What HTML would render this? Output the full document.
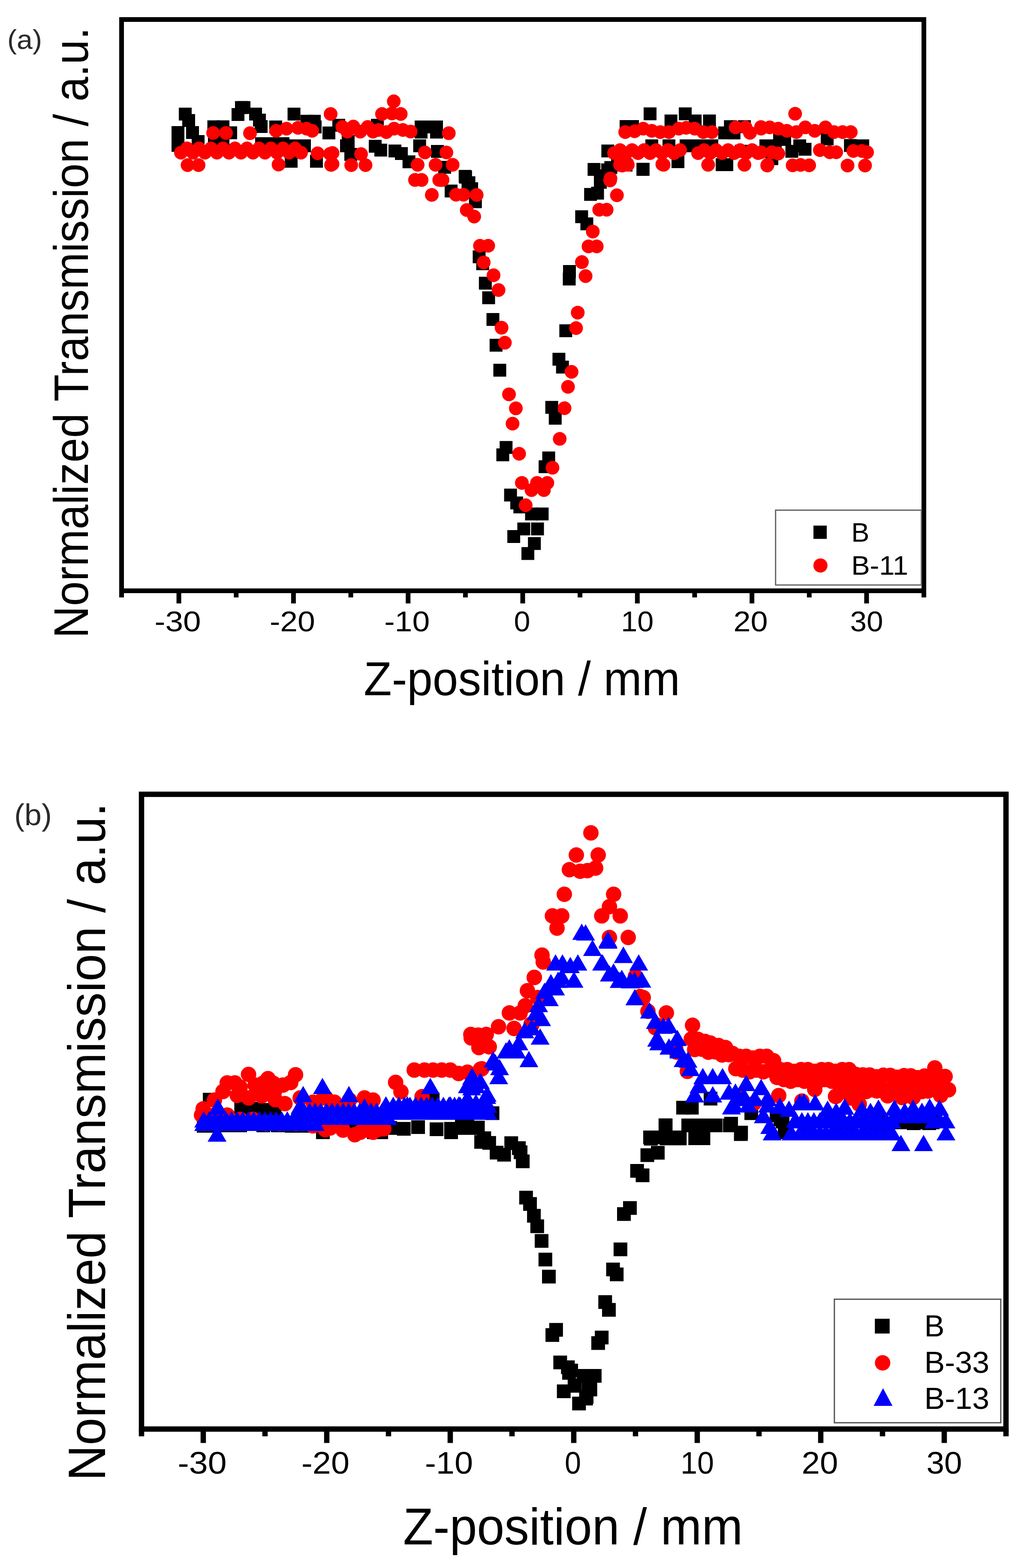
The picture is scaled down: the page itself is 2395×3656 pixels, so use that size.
<!DOCTYPE html>
<html><head><meta charset="utf-8"><title>Z-scan transmission</title>
<style>html,body{margin:0;padding:0;background:#fff;}svg{display:block;}</style>
</head><body>
<svg width="2395" height="3656" viewBox="0 0 2395 3656" font-family='"Liberation Sans", Arial, sans-serif'>
<rect width="2395" height="3656" fill="#fff"/>
<rect x="283.5" y="45.5" width="1871.0" height="1332.0" fill="none" stroke="#000" stroke-width="11"/>
<line x1="283.5" y1="1377.5" x2="283.5" y2="1393" stroke="#000" stroke-width="11"/>
<line x1="417.1" y1="1377.5" x2="417.1" y2="1407" stroke="#000" stroke-width="11"/>
<line x1="550.8" y1="1377.5" x2="550.8" y2="1393" stroke="#000" stroke-width="11"/>
<line x1="684.4" y1="1377.5" x2="684.4" y2="1407" stroke="#000" stroke-width="11"/>
<line x1="818.1" y1="1377.5" x2="818.1" y2="1393" stroke="#000" stroke-width="11"/>
<line x1="951.7" y1="1377.5" x2="951.7" y2="1407" stroke="#000" stroke-width="11"/>
<line x1="1085.4" y1="1377.5" x2="1085.4" y2="1393" stroke="#000" stroke-width="11"/>
<line x1="1219.0" y1="1377.5" x2="1219.0" y2="1407" stroke="#000" stroke-width="11"/>
<line x1="1352.6" y1="1377.5" x2="1352.6" y2="1393" stroke="#000" stroke-width="11"/>
<line x1="1486.3" y1="1377.5" x2="1486.3" y2="1407" stroke="#000" stroke-width="11"/>
<line x1="1619.9" y1="1377.5" x2="1619.9" y2="1393" stroke="#000" stroke-width="11"/>
<line x1="1753.6" y1="1377.5" x2="1753.6" y2="1407" stroke="#000" stroke-width="11"/>
<line x1="1887.2" y1="1377.5" x2="1887.2" y2="1393" stroke="#000" stroke-width="11"/>
<line x1="2020.9" y1="1377.5" x2="2020.9" y2="1407" stroke="#000" stroke-width="11"/>
<line x1="2154.5" y1="1377.5" x2="2154.5" y2="1393" stroke="#000" stroke-width="11"/>
<text x="414.6" y="1472.3" font-size="66.0" text-anchor="middle" fill="#000" textLength="108.0" lengthAdjust="spacingAndGlyphs">-30</text>
<text x="681.9" y="1472.3" font-size="66.0" text-anchor="middle" fill="#000" textLength="106.0" lengthAdjust="spacingAndGlyphs">-20</text>
<text x="949.2" y="1472.3" font-size="66.0" text-anchor="middle" fill="#000" textLength="106.0" lengthAdjust="spacingAndGlyphs">-10</text>
<text x="1217.5" y="1472.3" font-size="66.0" text-anchor="middle" fill="#000" textLength="38.0" lengthAdjust="spacingAndGlyphs">0</text>
<text x="1486.3" y="1472.3" font-size="66.0" text-anchor="middle" fill="#000" textLength="76.0" lengthAdjust="spacingAndGlyphs">10</text>
<text x="1750.6" y="1472.3" font-size="66.0" text-anchor="middle" fill="#000" textLength="80.0" lengthAdjust="spacingAndGlyphs">20</text>
<text x="2020.9" y="1472.3" font-size="66.0" text-anchor="middle" fill="#000" textLength="77.0" lengthAdjust="spacingAndGlyphs">30</text>
<text x="17.0" y="114.0" font-size="62.4" text-anchor="start" fill="#2a2a2a" textLength="81.1" lengthAdjust="spacingAndGlyphs">(a)</text>
<text x="848.3" y="1620.9" font-size="110.7" text-anchor="start" fill="#000" textLength="737.6" lengthAdjust="spacingAndGlyphs">Z-position / mm</text>
<text transform="translate(204.6,1487.9) rotate(-90)" font-size="113.5" textLength="1424.2" lengthAdjust="spacingAndGlyphs">Normalized Transmission / a.u.</text>
<rect x="330.0" y="1852.0" width="2016.0" height="1480.0" fill="none" stroke="#000" stroke-width="12.5"/>
<line x1="330.0" y1="3332.0" x2="330.0" y2="3349" stroke="#000" stroke-width="12.5"/>
<line x1="474.0" y1="3332.0" x2="474.0" y2="3364.5" stroke="#000" stroke-width="12.5"/>
<line x1="618.0" y1="3332.0" x2="618.0" y2="3349" stroke="#000" stroke-width="12.5"/>
<line x1="762.0" y1="3332.0" x2="762.0" y2="3364.5" stroke="#000" stroke-width="12.5"/>
<line x1="906.0" y1="3332.0" x2="906.0" y2="3349" stroke="#000" stroke-width="12.5"/>
<line x1="1050.0" y1="3332.0" x2="1050.0" y2="3364.5" stroke="#000" stroke-width="12.5"/>
<line x1="1194.0" y1="3332.0" x2="1194.0" y2="3349" stroke="#000" stroke-width="12.5"/>
<line x1="1338.0" y1="3332.0" x2="1338.0" y2="3364.5" stroke="#000" stroke-width="12.5"/>
<line x1="1482.0" y1="3332.0" x2="1482.0" y2="3349" stroke="#000" stroke-width="12.5"/>
<line x1="1626.0" y1="3332.0" x2="1626.0" y2="3364.5" stroke="#000" stroke-width="12.5"/>
<line x1="1770.0" y1="3332.0" x2="1770.0" y2="3349" stroke="#000" stroke-width="12.5"/>
<line x1="1914.0" y1="3332.0" x2="1914.0" y2="3364.5" stroke="#000" stroke-width="12.5"/>
<line x1="2058.0" y1="3332.0" x2="2058.0" y2="3349" stroke="#000" stroke-width="12.5"/>
<line x1="2202.0" y1="3332.0" x2="2202.0" y2="3364.5" stroke="#000" stroke-width="12.5"/>
<line x1="2346.0" y1="3332.0" x2="2346.0" y2="3349" stroke="#000" stroke-width="12.5"/>
<text x="471.5" y="3435.5" font-size="71.5" text-anchor="middle" fill="#000" textLength="114.0" lengthAdjust="spacingAndGlyphs">-30</text>
<text x="759.0" y="3435.5" font-size="71.5" text-anchor="middle" fill="#000" textLength="112.0" lengthAdjust="spacingAndGlyphs">-20</text>
<text x="1047.0" y="3435.5" font-size="71.5" text-anchor="middle" fill="#000" textLength="112.0" lengthAdjust="spacingAndGlyphs">-10</text>
<text x="1336.0" y="3435.5" font-size="71.5" text-anchor="middle" fill="#000" textLength="38.0" lengthAdjust="spacingAndGlyphs">0</text>
<text x="1626.0" y="3435.5" font-size="71.5" text-anchor="middle" fill="#000" textLength="78.0" lengthAdjust="spacingAndGlyphs">10</text>
<text x="1912.0" y="3435.5" font-size="71.5" text-anchor="middle" fill="#000" textLength="85.0" lengthAdjust="spacingAndGlyphs">20</text>
<text x="2202.0" y="3435.5" font-size="71.5" text-anchor="middle" fill="#000" textLength="83.0" lengthAdjust="spacingAndGlyphs">30</text>
<text x="33.2" y="1924.0" font-size="70.5" text-anchor="start" fill="#2a2a2a" textLength="87.7" lengthAdjust="spacingAndGlyphs">(b)</text>
<text x="939.9" y="3601.2" font-size="121.3" text-anchor="start" fill="#000" textLength="792.3" lengthAdjust="spacingAndGlyphs">Z-position / mm</text>
<text transform="translate(245,3452.8) rotate(-90)" font-size="122.8" textLength="1580.7" lengthAdjust="spacingAndGlyphs">Normalized Transmission / a.u.</text>
<g>
<rect x="417.0" y="251.0" width="30" height="30" fill="#000"/>
<rect x="425.0" y="266.0" width="30" height="30" fill="#000"/>
<rect x="400.0" y="294.0" width="30" height="30" fill="#000"/>
<rect x="434.0" y="294.0" width="30" height="30" fill="#000"/>
<rect x="400.0" y="324.0" width="30" height="30" fill="#000"/>
<rect x="447.0" y="315.0" width="30" height="30" fill="#000"/>
<rect x="483.6" y="280.6" width="30" height="30" fill="#000"/>
<rect x="505.0" y="280.6" width="30" height="30" fill="#000"/>
<rect x="485.0" y="315.0" width="30" height="30" fill="#000"/>
<rect x="505.0" y="315.0" width="30" height="30" fill="#000"/>
<rect x="523.0" y="294.6" width="30" height="30" fill="#000"/>
<rect x="548.0" y="235.7" width="30" height="30" fill="#000"/>
<rect x="554.0" y="235.7" width="30" height="30" fill="#000"/>
<rect x="540.0" y="252.0" width="30" height="30" fill="#000"/>
<rect x="581.0" y="251.0" width="30" height="30" fill="#000"/>
<rect x="590.0" y="265.0" width="30" height="30" fill="#000"/>
<rect x="594.0" y="280.0" width="30" height="30" fill="#000"/>
<rect x="628.0" y="281.0" width="30" height="30" fill="#000"/>
<rect x="670.6" y="251.0" width="30" height="30" fill="#000"/>
<rect x="700.8" y="267.7" width="30" height="30" fill="#000"/>
<rect x="718.0" y="267.7" width="30" height="30" fill="#000"/>
<rect x="720.0" y="281.0" width="30" height="30" fill="#000"/>
<rect x="752.0" y="295.0" width="30" height="30" fill="#000"/>
<rect x="664.0" y="361.0" width="30" height="30" fill="#000"/>
<rect x="723.0" y="361.0" width="30" height="30" fill="#000"/>
<rect x="595.0" y="320.0" width="30" height="30" fill="#000"/>
<rect x="625.0" y="320.0" width="30" height="30" fill="#000"/>
<rect x="645.0" y="320.0" width="30" height="30" fill="#000"/>
<rect x="675.0" y="325.0" width="30" height="30" fill="#000"/>
<rect x="695.0" y="325.0" width="30" height="30" fill="#000"/>
<rect x="775.0" y="277.0" width="30" height="30" fill="#000"/>
<rect x="797.0" y="315.0" width="30" height="30" fill="#000"/>
<rect x="793.0" y="325.0" width="30" height="30" fill="#000"/>
<rect x="803.0" y="345.0" width="30" height="30" fill="#000"/>
<rect x="865.0" y="277.0" width="30" height="30" fill="#000"/>
<rect x="860.0" y="326.0" width="30" height="30" fill="#000"/>
<rect x="873.0" y="335.0" width="30" height="30" fill="#000"/>
<rect x="906.0" y="337.0" width="30" height="30" fill="#000"/>
<rect x="921.0" y="343.0" width="30" height="30" fill="#000"/>
<rect x="938.7" y="362.3" width="30" height="30" fill="#000"/>
<rect x="963.6" y="325.0" width="30" height="30" fill="#000"/>
<rect x="967.0" y="281.0" width="30" height="30" fill="#000"/>
<rect x="987.0" y="281.0" width="30" height="30" fill="#000"/>
<rect x="1003.0" y="281.0" width="30" height="30" fill="#000"/>
<rect x="967.0" y="293.0" width="30" height="30" fill="#000"/>
<rect x="1003.0" y="293.0" width="30" height="30" fill="#000"/>
<rect x="1005.0" y="338.0" width="30" height="30" fill="#000"/>
<rect x="1022.0" y="375.0" width="30" height="30" fill="#000"/>
<rect x="1070.8" y="398.2" width="30" height="30" fill="#000"/>
<rect x="1078.5" y="411.0" width="30" height="30" fill="#000"/>
<rect x="1069.7" y="396.2" width="30" height="30" fill="#000"/>
<rect x="1076.4" y="414.5" width="30" height="30" fill="#000"/>
<rect x="1085.0" y="425.0" width="30" height="30" fill="#000"/>
<rect x="1037.0" y="430.4" width="30" height="30" fill="#000"/>
<rect x="1093.7" y="455.4" width="30" height="30" fill="#000"/>
<rect x="1102.4" y="583.8" width="30" height="30" fill="#000"/>
<rect x="1110.6" y="600.0" width="30" height="30" fill="#000"/>
<rect x="1116.8" y="645.3" width="30" height="30" fill="#000"/>
<rect x="1124.5" y="679.3" width="30" height="30" fill="#000"/>
<rect x="1134.5" y="729.9" width="30" height="30" fill="#000"/>
<rect x="1141.8" y="789.9" width="30" height="30" fill="#000"/>
<rect x="1150.5" y="848.2" width="30" height="30" fill="#000"/>
<rect x="1165.2" y="1028.3" width="30" height="30" fill="#000"/>
<rect x="1157.5" y="1045.5" width="30" height="30" fill="#000"/>
<rect x="1175.6" y="1139.3" width="30" height="30" fill="#000"/>
<rect x="1190.0" y="1157.7" width="30" height="30" fill="#000"/>
<rect x="1197.3" y="1167.0" width="30" height="30" fill="#000"/>
<rect x="1224.5" y="1183.4" width="30" height="30" fill="#000"/>
<rect x="1249.4" y="1183.4" width="30" height="30" fill="#000"/>
<rect x="1206.4" y="1218.3" width="30" height="30" fill="#000"/>
<rect x="1238.5" y="1218.3" width="30" height="30" fill="#000"/>
<rect x="1183.1" y="1236.0" width="30" height="30" fill="#000"/>
<rect x="1231.2" y="1252.3" width="30" height="30" fill="#000"/>
<rect x="1216.0" y="1275.6" width="30" height="30" fill="#000"/>
<rect x="1264.6" y="1052.7" width="30" height="30" fill="#000"/>
<rect x="1256.1" y="1073.2" width="30" height="30" fill="#000"/>
<rect x="1271.7" y="934.8" width="30" height="30" fill="#000"/>
<rect x="1279.8" y="960.2" width="30" height="30" fill="#000"/>
<rect x="1288.4" y="822.6" width="30" height="30" fill="#000"/>
<rect x="1296.7" y="840.9" width="30" height="30" fill="#000"/>
<rect x="1304.4" y="756.2" width="30" height="30" fill="#000"/>
<rect x="1312.5" y="635.6" width="30" height="30" fill="#000"/>
<rect x="1313.0" y="618.0" width="30" height="30" fill="#000"/>
<rect x="1341.4" y="490.3" width="30" height="30" fill="#000"/>
<rect x="1353.5" y="507.0" width="30" height="30" fill="#000"/>
<rect x="1362.2" y="438.3" width="30" height="30" fill="#000"/>
<rect x="1378.5" y="435.4" width="30" height="30" fill="#000"/>
<rect x="1390.0" y="395.0" width="30" height="30" fill="#000"/>
<rect x="1385.0" y="410.0" width="30" height="30" fill="#000"/>
<rect x="1370.3" y="380.0" width="30" height="30" fill="#000"/>
<rect x="1402.0" y="381.0" width="30" height="30" fill="#000"/>
<rect x="1484.7" y="379.6" width="30" height="30" fill="#000"/>
<rect x="1425.0" y="370.0" width="30" height="30" fill="#000"/>
<rect x="1445.0" y="370.0" width="30" height="30" fill="#000"/>
<rect x="1501.0" y="250.4" width="30" height="30" fill="#000"/>
<rect x="1583.0" y="250.4" width="30" height="30" fill="#000"/>
<rect x="1549.7" y="267.0" width="30" height="30" fill="#000"/>
<rect x="1606.2" y="267.0" width="30" height="30" fill="#000"/>
<rect x="1639.5" y="267.0" width="30" height="30" fill="#000"/>
<rect x="1445.0" y="280.0" width="30" height="30" fill="#000"/>
<rect x="1460.0" y="280.0" width="30" height="30" fill="#000"/>
<rect x="1688.3" y="280.3" width="30" height="30" fill="#000"/>
<rect x="1721.0" y="280.3" width="30" height="30" fill="#000"/>
<rect x="1675.0" y="294.8" width="30" height="30" fill="#000"/>
<rect x="1696.7" y="295.0" width="30" height="30" fill="#000"/>
<rect x="1772.4" y="325.6" width="30" height="30" fill="#000"/>
<rect x="1402.4" y="337.0" width="30" height="30" fill="#000"/>
<rect x="1409.4" y="375.6" width="30" height="30" fill="#000"/>
<rect x="1484.3" y="380.0" width="30" height="30" fill="#000"/>
<rect x="1566.0" y="362.0" width="30" height="30" fill="#000"/>
<rect x="1669.0" y="369.0" width="30" height="30" fill="#000"/>
<rect x="1680.0" y="369.0" width="30" height="30" fill="#000"/>
<rect x="1713.4" y="337.6" width="30" height="30" fill="#000"/>
<rect x="1615.0" y="325.0" width="30" height="30" fill="#000"/>
<rect x="1645.0" y="325.0" width="30" height="30" fill="#000"/>
<rect x="1505.0" y="325.0" width="30" height="30" fill="#000"/>
<rect x="1545.0" y="325.0" width="30" height="30" fill="#000"/>
<rect x="1585.0" y="325.0" width="30" height="30" fill="#000"/>
<rect x="1771.0" y="325.0" width="30" height="30" fill="#000"/>
<rect x="1793.0" y="325.0" width="30" height="30" fill="#000"/>
<rect x="1803.0" y="310.0" width="30" height="30" fill="#000"/>
<rect x="1815.0" y="310.0" width="30" height="30" fill="#000"/>
<rect x="1831.6" y="337.8" width="30" height="30" fill="#000"/>
<rect x="1862.4" y="333.0" width="30" height="30" fill="#000"/>
<rect x="1850.0" y="325.0" width="30" height="30" fill="#000"/>
<rect x="1914.0" y="309.0" width="30" height="30" fill="#000"/>
<rect x="1968.2" y="324.3" width="30" height="30" fill="#000"/>
<rect x="1997.0" y="325.0" width="30" height="30" fill="#000"/>
<rect x="1785.0" y="355.0" width="30" height="30" fill="#000"/>
</g><g>
<circle cx="497.0" cy="310.0" r="16.0" fill="#f00"/>
<circle cx="527.0" cy="310.0" r="16.0" fill="#f00"/>
<circle cx="583.0" cy="310.6" r="16.0" fill="#f00"/>
<circle cx="644.0" cy="305.0" r="16.0" fill="#f00"/>
<circle cx="668.0" cy="300.0" r="16.0" fill="#f00"/>
<circle cx="695.0" cy="298.0" r="16.0" fill="#f00"/>
<circle cx="715.0" cy="300.0" r="16.0" fill="#f00"/>
<circle cx="728.0" cy="305.0" r="16.0" fill="#f00"/>
<circle cx="771.0" cy="265.7" r="16.0" fill="#f00"/>
<circle cx="437.5" cy="385.0" r="16.0" fill="#f00"/>
<circle cx="463.0" cy="385.0" r="16.0" fill="#f00"/>
<circle cx="649.6" cy="383.7" r="16.0" fill="#f00"/>
<circle cx="740.7" cy="357.5" r="16.0" fill="#f00"/>
<circle cx="769.7" cy="358.8" r="16.0" fill="#f00"/>
<circle cx="772.0" cy="384.5" r="16.0" fill="#f00"/>
<circle cx="422.0" cy="356.0" r="16.0" fill="#f00"/>
<circle cx="436.0" cy="346.0" r="16.0" fill="#f00"/>
<circle cx="450.0" cy="356.0" r="16.0" fill="#f00"/>
<circle cx="464.0" cy="346.0" r="16.0" fill="#f00"/>
<circle cx="478.0" cy="356.0" r="16.0" fill="#f00"/>
<circle cx="492.0" cy="346.0" r="16.0" fill="#f00"/>
<circle cx="506.0" cy="356.0" r="16.0" fill="#f00"/>
<circle cx="520.0" cy="346.0" r="16.0" fill="#f00"/>
<circle cx="534.0" cy="356.0" r="16.0" fill="#f00"/>
<circle cx="548.0" cy="346.0" r="16.0" fill="#f00"/>
<circle cx="562.0" cy="356.0" r="16.0" fill="#f00"/>
<circle cx="576.0" cy="346.0" r="16.0" fill="#f00"/>
<circle cx="590.0" cy="356.0" r="16.0" fill="#f00"/>
<circle cx="604.0" cy="346.0" r="16.0" fill="#f00"/>
<circle cx="618.0" cy="356.0" r="16.0" fill="#f00"/>
<circle cx="632.0" cy="346.0" r="16.0" fill="#f00"/>
<circle cx="646.0" cy="356.0" r="16.0" fill="#f00"/>
<circle cx="660.0" cy="346.0" r="16.0" fill="#f00"/>
<circle cx="674.0" cy="356.0" r="16.0" fill="#f00"/>
<circle cx="688.0" cy="346.0" r="16.0" fill="#f00"/>
<circle cx="702.0" cy="356.0" r="16.0" fill="#f00"/>
<circle cx="918.3" cy="236.2" r="16.0" fill="#f00"/>
<circle cx="890.9" cy="265.7" r="16.0" fill="#f00"/>
<circle cx="934.5" cy="265.7" r="16.0" fill="#f00"/>
<circle cx="914.0" cy="264.4" r="16.0" fill="#f00"/>
<circle cx="798.5" cy="296.0" r="16.0" fill="#f00"/>
<circle cx="824.0" cy="295.0" r="16.0" fill="#f00"/>
<circle cx="857.5" cy="296.0" r="16.0" fill="#f00"/>
<circle cx="883.0" cy="303.0" r="16.0" fill="#f00"/>
<circle cx="901.0" cy="308.0" r="16.0" fill="#f00"/>
<circle cx="919.0" cy="300.0" r="16.0" fill="#f00"/>
<circle cx="939.6" cy="303.0" r="16.0" fill="#f00"/>
<circle cx="957.6" cy="306.7" r="16.0" fill="#f00"/>
<circle cx="810.0" cy="307.0" r="16.0" fill="#f00"/>
<circle cx="840.0" cy="307.0" r="16.0" fill="#f00"/>
<circle cx="870.0" cy="307.0" r="16.0" fill="#f00"/>
<circle cx="1046.6" cy="310.6" r="16.0" fill="#f00"/>
<circle cx="775.4" cy="356.8" r="16.0" fill="#f00"/>
<circle cx="775.4" cy="382.4" r="16.0" fill="#f00"/>
<circle cx="842.0" cy="359.3" r="16.0" fill="#f00"/>
<circle cx="819.0" cy="385.0" r="16.0" fill="#f00"/>
<circle cx="852.4" cy="385.0" r="16.0" fill="#f00"/>
<circle cx="991.0" cy="355.5" r="16.0" fill="#f00"/>
<circle cx="1041.0" cy="355.5" r="16.0" fill="#f00"/>
<circle cx="974.0" cy="384.2" r="16.0" fill="#f00"/>
<circle cx="1015.8" cy="384.2" r="16.0" fill="#f00"/>
<circle cx="1055.6" cy="384.2" r="16.0" fill="#f00"/>
<circle cx="967.8" cy="419.6" r="16.0" fill="#f00"/>
<circle cx="983.2" cy="419.6" r="16.0" fill="#f00"/>
<circle cx="1024.3" cy="419.6" r="16.0" fill="#f00"/>
<circle cx="1032.0" cy="419.6" r="16.0" fill="#f00"/>
<circle cx="1007.0" cy="454.5" r="16.0" fill="#f00"/>
<circle cx="1028.9" cy="419.4" r="16.0" fill="#f00"/>
<circle cx="1063.5" cy="454.0" r="16.0" fill="#f00"/>
<circle cx="1080.8" cy="454.0" r="16.0" fill="#f00"/>
<circle cx="1111.6" cy="454.5" r="16.0" fill="#f00"/>
<circle cx="1088.5" cy="489.7" r="16.0" fill="#f00"/>
<circle cx="1105.8" cy="505.0" r="16.0" fill="#f00"/>
<circle cx="1119.3" cy="573.0" r="16.0" fill="#f00"/>
<circle cx="1138.5" cy="573.0" r="16.0" fill="#f00"/>
<circle cx="1128.0" cy="611.9" r="16.0" fill="#f00"/>
<circle cx="1151.0" cy="641.7" r="16.0" fill="#f00"/>
<circle cx="1162.6" cy="676.3" r="16.0" fill="#f00"/>
<circle cx="1169.7" cy="764.1" r="16.0" fill="#f00"/>
<circle cx="1177.4" cy="799.1" r="16.0" fill="#f00"/>
<circle cx="1187.0" cy="919.4" r="16.0" fill="#f00"/>
<circle cx="1203.0" cy="952.1" r="16.0" fill="#f00"/>
<circle cx="1195.3" cy="987.7" r="16.0" fill="#f00"/>
<circle cx="1210.6" cy="1058.0" r="16.0" fill="#f00"/>
<circle cx="1217.0" cy="1125.9" r="16.0" fill="#f00"/>
<circle cx="1252.3" cy="1126.0" r="16.0" fill="#f00"/>
<circle cx="1276.4" cy="1126.0" r="16.0" fill="#f00"/>
<circle cx="1239.5" cy="1142.7" r="16.0" fill="#f00"/>
<circle cx="1268.4" cy="1142.7" r="16.0" fill="#f00"/>
<circle cx="1225.9" cy="1178.0" r="16.0" fill="#f00"/>
<circle cx="1305.3" cy="1023.3" r="16.0" fill="#f00"/>
<circle cx="1288.4" cy="1090.6" r="16.0" fill="#f00"/>
<circle cx="1347.3" cy="728.9" r="16.0" fill="#f00"/>
<circle cx="1343.4" cy="765.0" r="16.0" fill="#f00"/>
<circle cx="1332.9" cy="867.0" r="16.0" fill="#f00"/>
<circle cx="1324.6" cy="902.0" r="16.0" fill="#f00"/>
<circle cx="1316.5" cy="951.7" r="16.0" fill="#f00"/>
<circle cx="1422.8" cy="420.6" r="16.0" fill="#f00"/>
<circle cx="1438.7" cy="455.2" r="16.0" fill="#f00"/>
<circle cx="1397.4" cy="489.0" r="16.0" fill="#f00"/>
<circle cx="1414.7" cy="489.0" r="16.0" fill="#f00"/>
<circle cx="1382.4" cy="539.9" r="16.0" fill="#f00"/>
<circle cx="1372.4" cy="574.5" r="16.0" fill="#f00"/>
<circle cx="1391.6" cy="574.5" r="16.0" fill="#f00"/>
<circle cx="1357.0" cy="611.1" r="16.0" fill="#f00"/>
<circle cx="1365.6" cy="643.8" r="16.0" fill="#f00"/>
<circle cx="1447.4" cy="377.3" r="16.0" fill="#f00"/>
<circle cx="1462.8" cy="381.2" r="16.0" fill="#f00"/>
<circle cx="1451.0" cy="386.0" r="16.0" fill="#f00"/>
<circle cx="1544.6" cy="383.0" r="16.0" fill="#f00"/>
<circle cx="1423.6" cy="416.0" r="16.0" fill="#f00"/>
<circle cx="1458.0" cy="308.0" r="16.0" fill="#f00"/>
<circle cx="1480.0" cy="306.0" r="16.0" fill="#f00"/>
<circle cx="1500.0" cy="300.0" r="16.0" fill="#f00"/>
<circle cx="1520.0" cy="305.0" r="16.0" fill="#f00"/>
<circle cx="1540.0" cy="308.0" r="16.0" fill="#f00"/>
<circle cx="1560.0" cy="308.0" r="16.0" fill="#f00"/>
<circle cx="1583.0" cy="300.0" r="16.0" fill="#f00"/>
<circle cx="1600.0" cy="298.0" r="16.0" fill="#f00"/>
<circle cx="1620.0" cy="300.0" r="16.0" fill="#f00"/>
<circle cx="1640.0" cy="308.0" r="16.0" fill="#f00"/>
<circle cx="1660.0" cy="308.0" r="16.0" fill="#f00"/>
<circle cx="1715.6" cy="297.0" r="16.0" fill="#f00"/>
<circle cx="1738.7" cy="297.0" r="16.0" fill="#f00"/>
<circle cx="1749.0" cy="309.8" r="16.0" fill="#f00"/>
<circle cx="1774.6" cy="296.2" r="16.0" fill="#f00"/>
<circle cx="1446.0" cy="384.2" r="16.0" fill="#f00"/>
<circle cx="1464.0" cy="384.2" r="16.0" fill="#f00"/>
<circle cx="1547.5" cy="384.2" r="16.0" fill="#f00"/>
<circle cx="1651.4" cy="384.2" r="16.0" fill="#f00"/>
<circle cx="1736.0" cy="384.2" r="16.0" fill="#f00"/>
<circle cx="1790.0" cy="384.2" r="16.0" fill="#f00"/>
<circle cx="1432.0" cy="357.0" r="16.0" fill="#f00"/>
<circle cx="1446.0" cy="350.0" r="16.0" fill="#f00"/>
<circle cx="1460.0" cy="357.0" r="16.0" fill="#f00"/>
<circle cx="1474.0" cy="350.0" r="16.0" fill="#f00"/>
<circle cx="1488.0" cy="357.0" r="16.0" fill="#f00"/>
<circle cx="1502.0" cy="350.0" r="16.0" fill="#f00"/>
<circle cx="1516.0" cy="357.0" r="16.0" fill="#f00"/>
<circle cx="1530.0" cy="350.0" r="16.0" fill="#f00"/>
<circle cx="1544.0" cy="357.0" r="16.0" fill="#f00"/>
<circle cx="1558.0" cy="350.0" r="16.0" fill="#f00"/>
<circle cx="1572.0" cy="357.0" r="16.0" fill="#f00"/>
<circle cx="1586.0" cy="350.0" r="16.0" fill="#f00"/>
<circle cx="1628.0" cy="357.0" r="16.0" fill="#f00"/>
<circle cx="1642.0" cy="350.0" r="16.0" fill="#f00"/>
<circle cx="1656.0" cy="357.0" r="16.0" fill="#f00"/>
<circle cx="1670.0" cy="350.0" r="16.0" fill="#f00"/>
<circle cx="1684.0" cy="357.0" r="16.0" fill="#f00"/>
<circle cx="1698.0" cy="350.0" r="16.0" fill="#f00"/>
<circle cx="1712.0" cy="357.0" r="16.0" fill="#f00"/>
<circle cx="1726.0" cy="350.0" r="16.0" fill="#f00"/>
<circle cx="1740.0" cy="357.0" r="16.0" fill="#f00"/>
<circle cx="1754.0" cy="350.0" r="16.0" fill="#f00"/>
<circle cx="1768.0" cy="357.0" r="16.0" fill="#f00"/>
<circle cx="1854.3" cy="265.2" r="16.0" fill="#f00"/>
<circle cx="1775.0" cy="300.0" r="16.0" fill="#f00"/>
<circle cx="1795.0" cy="297.0" r="16.0" fill="#f00"/>
<circle cx="1815.0" cy="300.0" r="16.0" fill="#f00"/>
<circle cx="1835.0" cy="305.0" r="16.0" fill="#f00"/>
<circle cx="1857.0" cy="308.0" r="16.0" fill="#f00"/>
<circle cx="1878.0" cy="297.0" r="16.0" fill="#f00"/>
<circle cx="1900.0" cy="305.0" r="16.0" fill="#f00"/>
<circle cx="1925.0" cy="297.0" r="16.0" fill="#f00"/>
<circle cx="1945.0" cy="308.0" r="16.0" fill="#f00"/>
<circle cx="1965.0" cy="308.0" r="16.0" fill="#f00"/>
<circle cx="1984.0" cy="308.0" r="16.0" fill="#f00"/>
<circle cx="1775.0" cy="355.0" r="16.0" fill="#f00"/>
<circle cx="1800.0" cy="355.0" r="16.0" fill="#f00"/>
<circle cx="1815.0" cy="358.0" r="16.0" fill="#f00"/>
<circle cx="1912.0" cy="350.0" r="16.0" fill="#f00"/>
<circle cx="1935.0" cy="355.0" r="16.0" fill="#f00"/>
<circle cx="1950.0" cy="355.0" r="16.0" fill="#f00"/>
<circle cx="1990.0" cy="352.0" r="16.0" fill="#f00"/>
<circle cx="2010.0" cy="352.0" r="16.0" fill="#f00"/>
<circle cx="2022.0" cy="355.0" r="16.0" fill="#f00"/>
<circle cx="1789.2" cy="385.9" r="16.0" fill="#f00"/>
<circle cx="1867.0" cy="384.4" r="16.0" fill="#f00"/>
<circle cx="1848.5" cy="385.5" r="16.0" fill="#f00"/>
<circle cx="1887.0" cy="385.5" r="16.0" fill="#f00"/>
<circle cx="1976.5" cy="385.9" r="16.0" fill="#f00"/>
<circle cx="2017.3" cy="385.9" r="16.0" fill="#f00"/>
</g>
<g>
<rect x="473.0" y="2548.0" width="32" height="32" fill="#000"/>
<rect x="546.4" y="2569.0" width="32" height="32" fill="#000"/>
<rect x="570.0" y="2569.0" width="32" height="32" fill="#000"/>
<rect x="599.0" y="2572.0" width="32" height="32" fill="#000"/>
<rect x="624.0" y="2572.0" width="32" height="32" fill="#000"/>
<rect x="459.0" y="2594.0" width="32" height="32" fill="#000"/>
<rect x="459.0" y="2609.0" width="32" height="32" fill="#000"/>
<rect x="598.0" y="2608.0" width="32" height="32" fill="#000"/>
<rect x="631.7" y="2608.0" width="32" height="32" fill="#000"/>
<rect x="737.0" y="2624.0" width="32" height="32" fill="#000"/>
<rect x="694.0" y="2609.0" width="32" height="32" fill="#000"/>
<rect x="514.0" y="2608.0" width="32" height="32" fill="#000"/>
<rect x="544.0" y="2608.0" width="32" height="32" fill="#000"/>
<rect x="664.0" y="2609.0" width="32" height="32" fill="#000"/>
<rect x="484.0" y="2609.0" width="32" height="32" fill="#000"/>
<rect x="856.0" y="2624.0" width="32" height="32" fill="#000"/>
<rect x="873.0" y="2624.0" width="32" height="32" fill="#000"/>
<rect x="925.7" y="2616.0" width="32" height="32" fill="#000"/>
<rect x="1002.0" y="2617.0" width="32" height="32" fill="#000"/>
<rect x="1035.7" y="2616.0" width="32" height="32" fill="#000"/>
<rect x="1098.5" y="2613.0" width="32" height="32" fill="#000"/>
<rect x="1106.0" y="2646.5" width="32" height="32" fill="#000"/>
<rect x="993.0" y="2547.7" width="32" height="32" fill="#000"/>
<rect x="959.0" y="2612.0" width="32" height="32" fill="#000"/>
<rect x="1064.0" y="2614.0" width="32" height="32" fill="#000"/>
<rect x="764.0" y="2609.0" width="32" height="32" fill="#000"/>
<rect x="804.0" y="2609.0" width="32" height="32" fill="#000"/>
<rect x="834.0" y="2614.0" width="32" height="32" fill="#000"/>
<rect x="894.0" y="2614.0" width="32" height="32" fill="#000"/>
<rect x="1132.5" y="2579.5" width="32" height="32" fill="#000"/>
<rect x="1074.0" y="2589.0" width="32" height="32" fill="#000"/>
<rect x="1061.0" y="2599.0" width="32" height="32" fill="#000"/>
<rect x="1036.0" y="2624.0" width="32" height="32" fill="#000"/>
<rect x="1089.0" y="2614.0" width="32" height="32" fill="#000"/>
<rect x="1096.9" y="2612.9" width="32" height="32" fill="#000"/>
<rect x="1113.3" y="2637.9" width="32" height="32" fill="#000"/>
<rect x="1124.8" y="2648.8" width="32" height="32" fill="#000"/>
<rect x="1142.1" y="2671.5" width="32" height="32" fill="#000"/>
<rect x="1159.5" y="2676.4" width="32" height="32" fill="#000"/>
<rect x="1176.2" y="2649.4" width="32" height="32" fill="#000"/>
<rect x="1194.0" y="2661.0" width="32" height="32" fill="#000"/>
<rect x="1198.0" y="2670.6" width="32" height="32" fill="#000"/>
<rect x="1203.1" y="2691.8" width="32" height="32" fill="#000"/>
<rect x="1210.8" y="2776.4" width="32" height="32" fill="#000"/>
<rect x="1220.0" y="2791.2" width="32" height="32" fill="#000"/>
<rect x="1229.1" y="2818.7" width="32" height="32" fill="#000"/>
<rect x="1236.8" y="2843.2" width="32" height="32" fill="#000"/>
<rect x="1247.0" y="2877.4" width="32" height="32" fill="#000"/>
<rect x="1255.8" y="2920.8" width="32" height="32" fill="#000"/>
<rect x="1264.0" y="2960.6" width="32" height="32" fill="#000"/>
<rect x="1280.8" y="3084.7" width="32" height="32" fill="#000"/>
<rect x="1272.1" y="3096.8" width="32" height="32" fill="#000"/>
<rect x="1290.4" y="3160.7" width="32" height="32" fill="#000"/>
<rect x="1308.3" y="3171.9" width="32" height="32" fill="#000"/>
<rect x="1316.0" y="3179.6" width="32" height="32" fill="#000"/>
<rect x="1311.0" y="3185.0" width="32" height="32" fill="#000"/>
<rect x="1344.9" y="3192.0" width="32" height="32" fill="#000"/>
<rect x="1370.9" y="3192.0" width="32" height="32" fill="#000"/>
<rect x="1324.7" y="3215.2" width="32" height="32" fill="#000"/>
<rect x="1298.7" y="3228.0" width="32" height="32" fill="#000"/>
<rect x="1360.7" y="3223.8" width="32" height="32" fill="#000"/>
<rect x="1350.6" y="3245.0" width="32" height="32" fill="#000"/>
<rect x="1334.3" y="3256.5" width="32" height="32" fill="#000"/>
<rect x="1323.8" y="3214.0" width="32" height="32" fill="#000"/>
<rect x="1357.0" y="3217.0" width="32" height="32" fill="#000"/>
<rect x="1352.0" y="3241.0" width="32" height="32" fill="#000"/>
<rect x="1430.9" y="2897.1" width="32" height="32" fill="#000"/>
<rect x="1413.6" y="2943.9" width="32" height="32" fill="#000"/>
<rect x="1422.2" y="2955.4" width="32" height="32" fill="#000"/>
<rect x="1395.3" y="3019.9" width="32" height="32" fill="#000"/>
<rect x="1404.0" y="3038.1" width="32" height="32" fill="#000"/>
<rect x="1387.2" y="3102.6" width="32" height="32" fill="#000"/>
<rect x="1378.9" y="3115.5" width="32" height="32" fill="#000"/>
<rect x="1439.0" y="2814.7" width="32" height="32" fill="#000"/>
<rect x="1453.0" y="2800.6" width="32" height="32" fill="#000"/>
<rect x="1469.7" y="2714.0" width="32" height="32" fill="#000"/>
<rect x="1482.5" y="2724.4" width="32" height="32" fill="#000"/>
<rect x="1493.6" y="2677.4" width="32" height="32" fill="#000"/>
<rect x="1518.0" y="2671.8" width="32" height="32" fill="#000"/>
<rect x="1501.8" y="2639.0" width="32" height="32" fill="#000"/>
<rect x="1538.5" y="2638.4" width="32" height="32" fill="#000"/>
<rect x="1569.3" y="2638.4" width="32" height="32" fill="#000"/>
<rect x="1536.4" y="2608.1" width="32" height="32" fill="#000"/>
<rect x="1589.0" y="2608.0" width="32" height="32" fill="#000"/>
<rect x="1621.0" y="2608.0" width="32" height="32" fill="#000"/>
<rect x="1653.0" y="2608.0" width="32" height="32" fill="#000"/>
<rect x="1686.0" y="2608.0" width="32" height="32" fill="#000"/>
<rect x="1605.2" y="2638.0" width="32" height="32" fill="#000"/>
<rect x="1624.4" y="2638.0" width="32" height="32" fill="#000"/>
<rect x="1712.2" y="2624.8" width="32" height="32" fill="#000"/>
<rect x="1577.0" y="2566.7" width="32" height="32" fill="#000"/>
<rect x="1597.4" y="2566.7" width="32" height="32" fill="#000"/>
<rect x="1641.0" y="2545.6" width="32" height="32" fill="#000"/>
<rect x="1535.8" y="2607.7" width="32" height="32" fill="#000"/>
<rect x="1711.6" y="2628.3" width="32" height="32" fill="#000"/>
<rect x="1500.0" y="2636.0" width="32" height="32" fill="#000"/>
<rect x="1530.7" y="2636.0" width="32" height="32" fill="#000"/>
<rect x="1566.6" y="2636.0" width="32" height="32" fill="#000"/>
<rect x="1736.0" y="2579.5" width="32" height="32" fill="#000"/>
<rect x="1795.0" y="2584.6" width="32" height="32" fill="#000"/>
<rect x="1809.0" y="2599.0" width="32" height="32" fill="#000"/>
<rect x="1869.0" y="2607.0" width="32" height="32" fill="#000"/>
<rect x="1689.0" y="2604.0" width="32" height="32" fill="#000"/>
<rect x="1804.0" y="2594.0" width="32" height="32" fill="#000"/>
<rect x="1814.0" y="2624.0" width="32" height="32" fill="#000"/>
<rect x="1864.0" y="2609.0" width="32" height="32" fill="#000"/>
<rect x="1865.8" y="2606.0" width="32" height="32" fill="#000"/>
<rect x="2004.0" y="2601.0" width="32" height="32" fill="#000"/>
<rect x="2036.0" y="2601.0" width="32" height="32" fill="#000"/>
<rect x="2050.0" y="2603.0" width="32" height="32" fill="#000"/>
<rect x="2074.0" y="2601.0" width="32" height="32" fill="#000"/>
<rect x="2104.0" y="2601.0" width="32" height="32" fill="#000"/>
<rect x="2115.0" y="2603.0" width="32" height="32" fill="#000"/>
<rect x="2134.0" y="2601.0" width="32" height="32" fill="#000"/>
<rect x="2151.0" y="2603.0" width="32" height="32" fill="#000"/>
<rect x="2159.0" y="2601.0" width="32" height="32" fill="#000"/>
<rect x="1934.0" y="2604.0" width="32" height="32" fill="#000"/>
<rect x="1969.0" y="2604.0" width="32" height="32" fill="#000"/>
</g><g>
<circle cx="529.8" cy="2525.0" r="18.0" fill="#f00"/>
<circle cx="547.8" cy="2525.0" r="18.0" fill="#f00"/>
<circle cx="579.6" cy="2505.2" r="18.0" fill="#f00"/>
<circle cx="612.9" cy="2526.0" r="18.0" fill="#f00"/>
<circle cx="637.6" cy="2526.0" r="18.0" fill="#f00"/>
<circle cx="689.2" cy="2506.0" r="18.0" fill="#f00"/>
<circle cx="678.0" cy="2524.0" r="18.0" fill="#f00"/>
<circle cx="553.4" cy="2554.2" r="18.0" fill="#f00"/>
<circle cx="610.6" cy="2555.3" r="18.0" fill="#f00"/>
<circle cx="642.0" cy="2564.3" r="18.0" fill="#f00"/>
<circle cx="664.5" cy="2573.3" r="18.0" fill="#f00"/>
<circle cx="473.7" cy="2585.6" r="18.0" fill="#f00"/>
<circle cx="754.3" cy="2559.8" r="18.0" fill="#f00"/>
<circle cx="758.8" cy="2634.0" r="18.0" fill="#f00"/>
<circle cx="711.7" cy="2600.0" r="18.0" fill="#f00"/>
<circle cx="500.0" cy="2600.0" r="18.0" fill="#f00"/>
<circle cx="530.0" cy="2600.0" r="18.0" fill="#f00"/>
<circle cx="560.0" cy="2610.0" r="18.0" fill="#f00"/>
<circle cx="590.0" cy="2610.0" r="18.0" fill="#f00"/>
<circle cx="620.0" cy="2620.0" r="18.0" fill="#f00"/>
<circle cx="650.0" cy="2620.0" r="18.0" fill="#f00"/>
<circle cx="690.0" cy="2620.0" r="18.0" fill="#f00"/>
<circle cx="730.0" cy="2625.0" r="18.0" fill="#f00"/>
<circle cx="580.0" cy="2560.0" r="18.0" fill="#f00"/>
<circle cx="700.0" cy="2560.0" r="18.0" fill="#f00"/>
<circle cx="730.0" cy="2570.0" r="18.0" fill="#f00"/>
<circle cx="500.0" cy="2565.0" r="18.0" fill="#f00"/>
<circle cx="520.0" cy="2545.0" r="18.0" fill="#f00"/>
<circle cx="560.0" cy="2535.0" r="18.0" fill="#f00"/>
<circle cx="600.0" cy="2540.0" r="18.0" fill="#f00"/>
<circle cx="640.0" cy="2545.0" r="18.0" fill="#f00"/>
<circle cx="660.0" cy="2530.0" r="18.0" fill="#f00"/>
<circle cx="470.0" cy="2600.0" r="18.0" fill="#f00"/>
<circle cx="595.0" cy="2530.0" r="18.0" fill="#f00"/>
<circle cx="625.0" cy="2515.0" r="18.0" fill="#f00"/>
<circle cx="922.6" cy="2523.7" r="18.0" fill="#f00"/>
<circle cx="935.0" cy="2545.7" r="18.0" fill="#f00"/>
<circle cx="966.0" cy="2495.0" r="18.0" fill="#f00"/>
<circle cx="990.0" cy="2495.0" r="18.0" fill="#f00"/>
<circle cx="1010.0" cy="2495.0" r="18.0" fill="#f00"/>
<circle cx="1030.0" cy="2495.0" r="18.0" fill="#f00"/>
<circle cx="1050.0" cy="2495.0" r="18.0" fill="#f00"/>
<circle cx="1069.6" cy="2503.0" r="18.0" fill="#f00"/>
<circle cx="984.3" cy="2557.0" r="18.0" fill="#f00"/>
<circle cx="1123.5" cy="2492.0" r="18.0" fill="#f00"/>
<circle cx="1098.8" cy="2420.0" r="18.0" fill="#f00"/>
<circle cx="1116.8" cy="2442.5" r="18.0" fill="#f00"/>
<circle cx="815.0" cy="2565.0" r="18.0" fill="#f00"/>
<circle cx="850.0" cy="2560.0" r="18.0" fill="#f00"/>
<circle cx="870.0" cy="2565.0" r="18.0" fill="#f00"/>
<circle cx="809.0" cy="2584.0" r="18.0" fill="#f00"/>
<circle cx="827.4" cy="2645.8" r="18.0" fill="#f00"/>
<circle cx="858.6" cy="2635.5" r="18.0" fill="#f00"/>
<circle cx="883.0" cy="2633.0" r="18.0" fill="#f00"/>
<circle cx="900.0" cy="2600.0" r="18.0" fill="#f00"/>
<circle cx="950.0" cy="2590.0" r="18.0" fill="#f00"/>
<circle cx="1040.0" cy="2590.0" r="18.0" fill="#f00"/>
<circle cx="790.0" cy="2600.0" r="18.0" fill="#f00"/>
<circle cx="770.0" cy="2630.0" r="18.0" fill="#f00"/>
<circle cx="800.0" cy="2635.0" r="18.0" fill="#f00"/>
<circle cx="840.0" cy="2640.0" r="18.0" fill="#f00"/>
<circle cx="870.0" cy="2640.0" r="18.0" fill="#f00"/>
<circle cx="895.0" cy="2632.0" r="18.0" fill="#f00"/>
<circle cx="760.0" cy="2560.0" r="18.0" fill="#f00"/>
<circle cx="780.0" cy="2570.0" r="18.0" fill="#f00"/>
<circle cx="1246.0" cy="2279.0" r="18.0" fill="#f00"/>
<circle cx="1254.0" cy="2326.0" r="18.0" fill="#f00"/>
<circle cx="1187.8" cy="2361.8" r="18.0" fill="#f00"/>
<circle cx="1213.0" cy="2361.8" r="18.0" fill="#f00"/>
<circle cx="1162.6" cy="2394.0" r="18.0" fill="#f00"/>
<circle cx="1098.0" cy="2412.0" r="18.0" fill="#f00"/>
<circle cx="1134.0" cy="2412.0" r="18.0" fill="#f00"/>
<circle cx="1141.0" cy="2440.8" r="18.0" fill="#f00"/>
<circle cx="1115.4" cy="2413.4" r="18.0" fill="#f00"/>
<circle cx="1198.8" cy="2398.0" r="18.0" fill="#f00"/>
<circle cx="1238.5" cy="2387.8" r="18.0" fill="#f00"/>
<circle cx="1240.0" cy="2390.0" r="18.0" fill="#f00"/>
<circle cx="1120.5" cy="2493.0" r="18.0" fill="#f00"/>
<circle cx="1090.0" cy="2500.0" r="18.0" fill="#f00"/>
<circle cx="1230.0" cy="2310.0" r="18.0" fill="#f00"/>
<circle cx="1225.0" cy="2345.0" r="18.0" fill="#f00"/>
<circle cx="1378.0" cy="1942.0" r="18.0" fill="#f00"/>
<circle cx="1344.0" cy="1993.6" r="18.0" fill="#f00"/>
<circle cx="1395.0" cy="1993.6" r="18.0" fill="#f00"/>
<circle cx="1327.8" cy="2027.8" r="18.0" fill="#f00"/>
<circle cx="1353.0" cy="2031.4" r="18.0" fill="#f00"/>
<circle cx="1389.0" cy="2024.0" r="18.0" fill="#f00"/>
<circle cx="1370.0" cy="2030.0" r="18.0" fill="#f00"/>
<circle cx="1316.0" cy="2085.2" r="18.0" fill="#f00"/>
<circle cx="1431.0" cy="2085.2" r="18.0" fill="#f00"/>
<circle cx="1288.3" cy="2135.5" r="18.0" fill="#f00"/>
<circle cx="1310.0" cy="2135.5" r="18.0" fill="#f00"/>
<circle cx="1299.0" cy="2164.0" r="18.0" fill="#f00"/>
<circle cx="1403.3" cy="2135.5" r="18.0" fill="#f00"/>
<circle cx="1421.2" cy="2114.0" r="18.0" fill="#f00"/>
<circle cx="1446.4" cy="2135.5" r="18.0" fill="#f00"/>
<circle cx="1421.2" cy="2185.8" r="18.0" fill="#f00"/>
<circle cx="1465.0" cy="2185.8" r="18.0" fill="#f00"/>
<circle cx="1264.0" cy="2227.0" r="18.0" fill="#f00"/>
<circle cx="1266.8" cy="2243.0" r="18.0" fill="#f00"/>
<circle cx="1246.0" cy="2279.0" r="18.0" fill="#f00"/>
<circle cx="1481.8" cy="2276.6" r="18.0" fill="#f00"/>
<circle cx="1500.0" cy="2326.0" r="18.0" fill="#f00"/>
<circle cx="1511.0" cy="2358.0" r="18.0" fill="#f00"/>
<circle cx="1554.0" cy="2361.8" r="18.0" fill="#f00"/>
<circle cx="1532.6" cy="2390.6" r="18.0" fill="#f00"/>
<circle cx="1615.0" cy="2390.6" r="18.0" fill="#f00"/>
<circle cx="1622.4" cy="2423.0" r="18.0" fill="#f00"/>
<circle cx="1575.7" cy="2444.4" r="18.0" fill="#f00"/>
<circle cx="1492.6" cy="2323.6" r="18.0" fill="#f00"/>
<circle cx="1528.3" cy="2396.3" r="18.0" fill="#f00"/>
<circle cx="1656.6" cy="2432.0" r="18.0" fill="#f00"/>
<circle cx="1603.0" cy="2498.0" r="18.0" fill="#f00"/>
<circle cx="1577.5" cy="2453.0" r="18.0" fill="#f00"/>
<circle cx="1720.0" cy="2558.3" r="18.0" fill="#f00"/>
<circle cx="1816.0" cy="2554.5" r="18.0" fill="#f00"/>
<circle cx="1870.0" cy="2567.3" r="18.0" fill="#f00"/>
<circle cx="1758.4" cy="2572.4" r="18.0" fill="#f00"/>
<circle cx="1950.0" cy="2556.0" r="18.0" fill="#f00"/>
<circle cx="1612.0" cy="2422.6" r="18.0" fill="#f00"/>
<circle cx="1620.0" cy="2447.0" r="18.0" fill="#f00"/>
<circle cx="1628.0" cy="2423.4" r="18.0" fill="#f00"/>
<circle cx="1636.0" cy="2446.2" r="18.0" fill="#f00"/>
<circle cx="1644.0" cy="2428.2" r="18.0" fill="#f00"/>
<circle cx="1652.0" cy="2453.4" r="18.0" fill="#f00"/>
<circle cx="1660.0" cy="2437.0" r="18.0" fill="#f00"/>
<circle cx="1668.0" cy="2452.6" r="18.0" fill="#f00"/>
<circle cx="1676.0" cy="2437.8" r="18.0" fill="#f00"/>
<circle cx="1684.0" cy="2459.8" r="18.0" fill="#f00"/>
<circle cx="1692.0" cy="2442.6" r="18.0" fill="#f00"/>
<circle cx="1700.0" cy="2459.0" r="18.0" fill="#f00"/>
<circle cx="1708.0" cy="2456.2" r="18.0" fill="#f00"/>
<circle cx="1716.0" cy="2491.8" r="18.0" fill="#f00"/>
<circle cx="1724.0" cy="2463.0" r="18.0" fill="#f00"/>
<circle cx="1732.0" cy="2495.0" r="18.0" fill="#f00"/>
<circle cx="1740.0" cy="2463.0" r="18.0" fill="#f00"/>
<circle cx="1748.0" cy="2499.0" r="18.0" fill="#f00"/>
<circle cx="1756.0" cy="2467.0" r="18.0" fill="#f00"/>
<circle cx="1764.0" cy="2495.0" r="18.0" fill="#f00"/>
<circle cx="1772.0" cy="2463.0" r="18.0" fill="#f00"/>
<circle cx="1780.0" cy="2499.0" r="18.0" fill="#f00"/>
<circle cx="1788.0" cy="2463.0" r="18.0" fill="#f00"/>
<circle cx="1796.0" cy="2495.0" r="18.0" fill="#f00"/>
<circle cx="1804.0" cy="2473.2" r="18.0" fill="#f00"/>
<circle cx="1812.0" cy="2512.2" r="18.0" fill="#f00"/>
<circle cx="1820.0" cy="2494.0" r="18.0" fill="#f00"/>
<circle cx="1828.0" cy="2517.0" r="18.0" fill="#f00"/>
<circle cx="1836.0" cy="2494.0" r="18.0" fill="#f00"/>
<circle cx="1844.0" cy="2521.0" r="18.0" fill="#f00"/>
<circle cx="1852.0" cy="2498.0" r="18.0" fill="#f00"/>
<circle cx="1860.0" cy="2517.0" r="18.0" fill="#f00"/>
<circle cx="1868.0" cy="2494.0" r="18.0" fill="#f00"/>
<circle cx="1876.0" cy="2521.0" r="18.0" fill="#f00"/>
<circle cx="1884.0" cy="2494.0" r="18.0" fill="#f00"/>
<circle cx="1892.0" cy="2517.0" r="18.0" fill="#f00"/>
<circle cx="1900.0" cy="2498.0" r="18.0" fill="#f00"/>
<circle cx="1908.0" cy="2521.0" r="18.0" fill="#f00"/>
<circle cx="1916.0" cy="2494.0" r="18.0" fill="#f00"/>
<circle cx="1924.0" cy="2517.0" r="18.0" fill="#f00"/>
<circle cx="1932.0" cy="2494.0" r="18.0" fill="#f00"/>
<circle cx="1940.0" cy="2521.0" r="18.0" fill="#f00"/>
<circle cx="1948.0" cy="2498.0" r="18.0" fill="#f00"/>
<circle cx="1956.0" cy="2517.0" r="18.0" fill="#f00"/>
<circle cx="1964.0" cy="2494.0" r="18.0" fill="#f00"/>
<circle cx="1972.0" cy="2521.0" r="18.0" fill="#f00"/>
<circle cx="1980.0" cy="2494.0" r="18.0" fill="#f00"/>
<circle cx="1988.0" cy="2517.0" r="18.0" fill="#f00"/>
<circle cx="1996.0" cy="2505.2" r="18.0" fill="#f00"/>
<circle cx="2004.0" cy="2540.1" r="18.0" fill="#f00"/>
<circle cx="2012.0" cy="2506.2" r="18.0" fill="#f00"/>
<circle cx="2020.0" cy="2536.5" r="18.0" fill="#f00"/>
<circle cx="2028.0" cy="2506.5" r="18.0" fill="#f00"/>
<circle cx="2036.0" cy="2540.9" r="18.0" fill="#f00"/>
<circle cx="2044.0" cy="2510.8" r="18.0" fill="#f00"/>
<circle cx="2052.0" cy="2537.2" r="18.0" fill="#f00"/>
<circle cx="2060.0" cy="2507.1" r="18.0" fill="#f00"/>
<circle cx="2068.0" cy="2541.6" r="18.0" fill="#f00"/>
<circle cx="2076.0" cy="2507.4" r="18.0" fill="#f00"/>
<circle cx="2084.0" cy="2538.0" r="18.0" fill="#f00"/>
<circle cx="2092.0" cy="2511.8" r="18.0" fill="#f00"/>
<circle cx="2100.0" cy="2542.4" r="18.0" fill="#f00"/>
<circle cx="2108.0" cy="2508.1" r="18.0" fill="#f00"/>
<circle cx="2116.0" cy="2538.8" r="18.0" fill="#f00"/>
<circle cx="2124.0" cy="2508.4" r="18.0" fill="#f00"/>
<circle cx="2132.0" cy="2543.1" r="18.0" fill="#f00"/>
<circle cx="2140.0" cy="2512.7" r="18.0" fill="#f00"/>
<circle cx="2148.0" cy="2539.5" r="18.0" fill="#f00"/>
<circle cx="2156.0" cy="2509.0" r="18.0" fill="#f00"/>
<circle cx="2164.0" cy="2543.9" r="18.0" fill="#f00"/>
<circle cx="2172.0" cy="2509.3" r="18.0" fill="#f00"/>
<circle cx="2180.0" cy="2540.3" r="18.0" fill="#f00"/>
<circle cx="2188.0" cy="2513.6" r="18.0" fill="#f00"/>
<circle cx="2196.0" cy="2544.7" r="18.0" fill="#f00"/>
<circle cx="2204.0" cy="2509.9" r="18.0" fill="#f00"/>
<circle cx="2212.0" cy="2541.0" r="18.0" fill="#f00"/>
<circle cx="1919.0" cy="2507.8" r="18.0" fill="#f00"/>
<circle cx="1955.0" cy="2507.8" r="18.0" fill="#f00"/>
<circle cx="2111.4" cy="2525.7" r="18.0" fill="#f00"/>
<circle cx="2129.4" cy="2525.7" r="18.0" fill="#f00"/>
<circle cx="2180.7" cy="2505.2" r="18.0" fill="#f00"/>
<circle cx="2175.6" cy="2523.0" r="18.0" fill="#f00"/>
<circle cx="1948.5" cy="2556.5" r="18.0" fill="#f00"/>
<circle cx="1993.4" cy="2543.7" r="18.0" fill="#f00"/>
<circle cx="2003.7" cy="2574.5" r="18.0" fill="#f00"/>
<circle cx="2044.7" cy="2543.7" r="18.0" fill="#f00"/>
<circle cx="2103.7" cy="2559.0" r="18.0" fill="#f00"/>
<circle cx="2129.4" cy="2559.0" r="18.0" fill="#f00"/>
<circle cx="2193.5" cy="2554.0" r="18.0" fill="#f00"/>
<circle cx="1960.0" cy="2540.0" r="18.0" fill="#f00"/>
<circle cx="2020.0" cy="2545.0" r="18.0" fill="#f00"/>
<circle cx="2150.0" cy="2545.0" r="18.0" fill="#f00"/>
<circle cx="2070.0" cy="2555.0" r="18.0" fill="#f00"/>
<circle cx="1900.0" cy="2540.0" r="18.0" fill="#f00"/>
<circle cx="1985.0" cy="2560.0" r="18.0" fill="#f00"/>
<circle cx="2195.0" cy="2520.0" r="18.0" fill="#f00"/>
<circle cx="2180.0" cy="2490.0" r="18.0" fill="#f00"/>
</g><g>
<path d="M506.2 2624.0L528.2 2662.0L484.2 2662.0Z" fill="#00f"/>
<path d="M707.0 2532.0L729.0 2570.0L685.0 2570.0Z" fill="#00f"/>
<path d="M752.0 2513.0L774.0 2551.0L730.0 2551.0Z" fill="#00f"/>
<path d="M475.0 2591.0L497.0 2629.0L453.0 2629.0Z" fill="#00f"/>
<path d="M488.0 2591.0L510.0 2629.0L466.0 2629.0Z" fill="#00f"/>
<path d="M501.0 2591.0L523.0 2629.0L479.0 2629.0Z" fill="#00f"/>
<path d="M514.0 2591.0L536.0 2629.0L492.0 2629.0Z" fill="#00f"/>
<path d="M527.0 2591.0L549.0 2629.0L505.0 2629.0Z" fill="#00f"/>
<path d="M540.0 2591.0L562.0 2629.0L518.0 2629.0Z" fill="#00f"/>
<path d="M553.0 2591.0L575.0 2629.0L531.0 2629.0Z" fill="#00f"/>
<path d="M566.0 2591.0L588.0 2629.0L544.0 2629.0Z" fill="#00f"/>
<path d="M579.0 2591.0L601.0 2629.0L557.0 2629.0Z" fill="#00f"/>
<path d="M592.0 2591.0L614.0 2629.0L570.0 2629.0Z" fill="#00f"/>
<path d="M605.0 2591.0L627.0 2629.0L583.0 2629.0Z" fill="#00f"/>
<path d="M618.0 2591.0L640.0 2629.0L596.0 2629.0Z" fill="#00f"/>
<path d="M631.0 2591.0L653.0 2629.0L609.0 2629.0Z" fill="#00f"/>
<path d="M644.0 2591.0L666.0 2629.0L622.0 2629.0Z" fill="#00f"/>
<path d="M657.0 2591.0L679.0 2629.0L635.0 2629.0Z" fill="#00f"/>
<path d="M670.0 2591.0L692.0 2629.0L648.0 2629.0Z" fill="#00f"/>
<path d="M683.0 2591.0L705.0 2629.0L661.0 2629.0Z" fill="#00f"/>
<path d="M696.0 2571.0L718.0 2609.0L674.0 2609.0Z" fill="#00f"/>
<path d="M709.0 2571.0L731.0 2609.0L687.0 2609.0Z" fill="#00f"/>
<path d="M722.0 2571.0L744.0 2609.0L700.0 2609.0Z" fill="#00f"/>
<path d="M735.0 2571.0L757.0 2609.0L713.0 2609.0Z" fill="#00f"/>
<path d="M748.0 2571.0L770.0 2609.0L726.0 2609.0Z" fill="#00f"/>
<path d="M761.0 2571.0L783.0 2609.0L739.0 2609.0Z" fill="#00f"/>
<path d="M774.0 2571.0L796.0 2609.0L752.0 2609.0Z" fill="#00f"/>
<path d="M787.0 2571.0L809.0 2609.0L765.0 2609.0Z" fill="#00f"/>
<path d="M800.0 2571.0L822.0 2609.0L778.0 2609.0Z" fill="#00f"/>
<path d="M813.0 2571.0L835.0 2609.0L791.0 2609.0Z" fill="#00f"/>
<path d="M826.0 2571.0L848.0 2609.0L804.0 2609.0Z" fill="#00f"/>
<path d="M839.0 2571.0L861.0 2609.0L817.0 2609.0Z" fill="#00f"/>
<path d="M852.0 2571.0L874.0 2609.0L830.0 2609.0Z" fill="#00f"/>
<path d="M865.0 2571.0L887.0 2609.0L843.0 2609.0Z" fill="#00f"/>
<path d="M878.0 2571.0L900.0 2609.0L856.0 2609.0Z" fill="#00f"/>
<path d="M891.0 2571.0L913.0 2609.0L869.0 2609.0Z" fill="#00f"/>
<path d="M904.0 2571.0L926.0 2609.0L882.0 2609.0Z" fill="#00f"/>
<path d="M917.0 2557.0L939.0 2595.0L895.0 2595.0Z" fill="#00f"/>
<path d="M930.0 2557.0L952.0 2595.0L908.0 2595.0Z" fill="#00f"/>
<path d="M943.0 2557.0L965.0 2595.0L921.0 2595.0Z" fill="#00f"/>
<path d="M956.0 2557.0L978.0 2595.0L934.0 2595.0Z" fill="#00f"/>
<path d="M969.0 2557.0L991.0 2595.0L947.0 2595.0Z" fill="#00f"/>
<path d="M982.0 2557.0L1004.0 2595.0L960.0 2595.0Z" fill="#00f"/>
<path d="M995.0 2557.0L1017.0 2595.0L973.0 2595.0Z" fill="#00f"/>
<path d="M1008.0 2557.0L1030.0 2595.0L986.0 2595.0Z" fill="#00f"/>
<path d="M1021.0 2557.0L1043.0 2595.0L999.0 2595.0Z" fill="#00f"/>
<path d="M1034.0 2557.0L1056.0 2595.0L1012.0 2595.0Z" fill="#00f"/>
<path d="M1047.0 2557.0L1069.0 2595.0L1025.0 2595.0Z" fill="#00f"/>
<path d="M1060.0 2557.0L1082.0 2595.0L1038.0 2595.0Z" fill="#00f"/>
<path d="M1073.0 2557.0L1095.0 2595.0L1051.0 2595.0Z" fill="#00f"/>
<path d="M1086.0 2557.0L1108.0 2595.0L1064.0 2595.0Z" fill="#00f"/>
<path d="M1099.0 2557.0L1121.0 2595.0L1077.0 2595.0Z" fill="#00f"/>
<path d="M1112.0 2557.0L1134.0 2595.0L1090.0 2595.0Z" fill="#00f"/>
<path d="M1125.0 2557.0L1147.0 2595.0L1103.0 2595.0Z" fill="#00f"/>
<path d="M1138.0 2557.0L1160.0 2595.0L1116.0 2595.0Z" fill="#00f"/>
<path d="M475.0 2599.0L497.0 2637.0L453.0 2637.0Z" fill="#00f"/>
<path d="M488.0 2599.0L510.0 2637.0L466.0 2637.0Z" fill="#00f"/>
<path d="M501.0 2599.0L523.0 2637.0L479.0 2637.0Z" fill="#00f"/>
<path d="M514.0 2599.0L536.0 2637.0L492.0 2637.0Z" fill="#00f"/>
<path d="M527.0 2599.0L549.0 2637.0L505.0 2637.0Z" fill="#00f"/>
<path d="M540.0 2599.0L562.0 2637.0L518.0 2637.0Z" fill="#00f"/>
<path d="M553.0 2599.0L575.0 2637.0L531.0 2637.0Z" fill="#00f"/>
<path d="M566.0 2599.0L588.0 2637.0L544.0 2637.0Z" fill="#00f"/>
<path d="M579.0 2599.0L601.0 2637.0L557.0 2637.0Z" fill="#00f"/>
<path d="M592.0 2599.0L614.0 2637.0L570.0 2637.0Z" fill="#00f"/>
<path d="M605.0 2599.0L627.0 2637.0L583.0 2637.0Z" fill="#00f"/>
<path d="M618.0 2599.0L640.0 2637.0L596.0 2637.0Z" fill="#00f"/>
<path d="M631.0 2599.0L653.0 2637.0L609.0 2637.0Z" fill="#00f"/>
<path d="M644.0 2599.0L666.0 2637.0L622.0 2637.0Z" fill="#00f"/>
<path d="M657.0 2599.0L679.0 2637.0L635.0 2637.0Z" fill="#00f"/>
<path d="M670.0 2599.0L692.0 2637.0L648.0 2637.0Z" fill="#00f"/>
<path d="M683.0 2599.0L705.0 2637.0L661.0 2637.0Z" fill="#00f"/>
<path d="M696.0 2599.0L718.0 2637.0L674.0 2637.0Z" fill="#00f"/>
<path d="M709.0 2599.0L731.0 2637.0L687.0 2637.0Z" fill="#00f"/>
<path d="M722.0 2599.0L744.0 2637.0L700.0 2637.0Z" fill="#00f"/>
<path d="M735.0 2599.0L757.0 2637.0L713.0 2637.0Z" fill="#00f"/>
<path d="M748.0 2585.0L770.0 2623.0L726.0 2623.0Z" fill="#00f"/>
<path d="M761.0 2585.0L783.0 2623.0L739.0 2623.0Z" fill="#00f"/>
<path d="M774.0 2585.0L796.0 2623.0L752.0 2623.0Z" fill="#00f"/>
<path d="M787.0 2585.0L809.0 2623.0L765.0 2623.0Z" fill="#00f"/>
<path d="M800.0 2585.0L822.0 2623.0L778.0 2623.0Z" fill="#00f"/>
<path d="M813.0 2585.0L835.0 2623.0L791.0 2623.0Z" fill="#00f"/>
<path d="M826.0 2585.0L848.0 2623.0L804.0 2623.0Z" fill="#00f"/>
<path d="M839.0 2585.0L861.0 2623.0L817.0 2623.0Z" fill="#00f"/>
<path d="M852.0 2585.0L874.0 2623.0L830.0 2623.0Z" fill="#00f"/>
<path d="M865.0 2585.0L887.0 2623.0L843.0 2623.0Z" fill="#00f"/>
<path d="M878.0 2585.0L900.0 2623.0L856.0 2623.0Z" fill="#00f"/>
<path d="M891.0 2585.0L913.0 2623.0L869.0 2623.0Z" fill="#00f"/>
<path d="M904.0 2585.0L926.0 2623.0L882.0 2623.0Z" fill="#00f"/>
<path d="M917.0 2573.0L939.0 2611.0L895.0 2611.0Z" fill="#00f"/>
<path d="M930.0 2573.0L952.0 2611.0L908.0 2611.0Z" fill="#00f"/>
<path d="M943.0 2573.0L965.0 2611.0L921.0 2611.0Z" fill="#00f"/>
<path d="M956.0 2573.0L978.0 2611.0L934.0 2611.0Z" fill="#00f"/>
<path d="M969.0 2573.0L991.0 2611.0L947.0 2611.0Z" fill="#00f"/>
<path d="M982.0 2573.0L1004.0 2611.0L960.0 2611.0Z" fill="#00f"/>
<path d="M995.0 2573.0L1017.0 2611.0L973.0 2611.0Z" fill="#00f"/>
<path d="M1008.0 2573.0L1030.0 2611.0L986.0 2611.0Z" fill="#00f"/>
<path d="M1021.0 2573.0L1043.0 2611.0L999.0 2611.0Z" fill="#00f"/>
<path d="M1034.0 2573.0L1056.0 2611.0L1012.0 2611.0Z" fill="#00f"/>
<path d="M1047.0 2573.0L1069.0 2611.0L1025.0 2611.0Z" fill="#00f"/>
<path d="M1060.0 2573.0L1082.0 2611.0L1038.0 2611.0Z" fill="#00f"/>
<path d="M1073.0 2573.0L1095.0 2611.0L1051.0 2611.0Z" fill="#00f"/>
<path d="M1086.0 2573.0L1108.0 2611.0L1064.0 2611.0Z" fill="#00f"/>
<path d="M1099.0 2573.0L1121.0 2611.0L1077.0 2611.0Z" fill="#00f"/>
<path d="M1112.0 2573.0L1134.0 2611.0L1090.0 2611.0Z" fill="#00f"/>
<path d="M1125.0 2573.0L1147.0 2611.0L1103.0 2611.0Z" fill="#00f"/>
<path d="M1138.0 2573.0L1160.0 2611.0L1116.0 2611.0Z" fill="#00f"/>
<path d="M813.7 2532.0L835.7 2570.0L791.7 2570.0Z" fill="#00f"/>
<path d="M1003.5 2513.0L1025.5 2551.0L981.5 2551.0Z" fill="#00f"/>
<path d="M1090.0 2511.0L1112.0 2549.0L1068.0 2549.0Z" fill="#00f"/>
<path d="M1110.0 2511.0L1132.0 2549.0L1088.0 2549.0Z" fill="#00f"/>
<path d="M1100.0 2491.0L1122.0 2529.0L1078.0 2529.0Z" fill="#00f"/>
<path d="M900.0 2556.0L922.0 2594.0L878.0 2594.0Z" fill="#00f"/>
<path d="M950.0 2556.0L972.0 2594.0L928.0 2594.0Z" fill="#00f"/>
<path d="M1050.0 2556.0L1072.0 2594.0L1028.0 2594.0Z" fill="#00f"/>
<path d="M1070.0 2556.0L1092.0 2594.0L1048.0 2594.0Z" fill="#00f"/>
<path d="M850.0 2561.0L872.0 2599.0L828.0 2599.0Z" fill="#00f"/>
<path d="M700.0 2559.0L722.0 2597.0L678.0 2597.0Z" fill="#00f"/>
<path d="M508.0 2561.0L530.0 2599.0L486.0 2599.0Z" fill="#00f"/>
<path d="M1356.6 2153.5L1378.6 2191.5L1334.6 2191.5Z" fill="#00f"/>
<path d="M1365.6 2155.0L1387.6 2193.0L1343.6 2193.0Z" fill="#00f"/>
<path d="M1417.6 2171.0L1439.6 2209.0L1395.6 2209.0Z" fill="#00f"/>
<path d="M1381.7 2191.0L1403.7 2229.0L1359.7 2229.0Z" fill="#00f"/>
<path d="M1403.0 2225.0L1425.0 2263.0L1381.0 2263.0Z" fill="#00f"/>
<path d="M1453.6 2207.0L1475.6 2245.0L1431.6 2245.0Z" fill="#00f"/>
<path d="M1489.5 2225.0L1511.5 2263.0L1467.5 2263.0Z" fill="#00f"/>
<path d="M1295.5 2225.0L1317.5 2263.0L1273.5 2263.0Z" fill="#00f"/>
<path d="M1311.7 2225.0L1333.7 2263.0L1289.7 2263.0Z" fill="#00f"/>
<path d="M1347.6 2225.0L1369.6 2263.0L1325.6 2263.0Z" fill="#00f"/>
<path d="M1330.0 2231.0L1352.0 2269.0L1308.0 2269.0Z" fill="#00f"/>
<path d="M1310.0 2257.6L1332.0 2295.6L1288.0 2295.6Z" fill="#00f"/>
<path d="M1338.6 2265.0L1360.6 2303.0L1316.6 2303.0Z" fill="#00f"/>
<path d="M1295.5 2283.0L1317.5 2321.0L1273.5 2321.0Z" fill="#00f"/>
<path d="M1281.0 2308.0L1303.0 2346.0L1259.0 2346.0Z" fill="#00f"/>
<path d="M1256.0 2322.0L1278.0 2360.0L1234.0 2360.0Z" fill="#00f"/>
<path d="M1263.0 2354.6L1285.0 2392.6L1241.0 2392.6Z" fill="#00f"/>
<path d="M1259.6 2397.7L1281.6 2435.7L1237.6 2435.7Z" fill="#00f"/>
<path d="M1223.7 2383.0L1245.7 2421.0L1201.7 2421.0Z" fill="#00f"/>
<path d="M1187.8 2423.0L1209.8 2461.0L1165.8 2461.0Z" fill="#00f"/>
<path d="M1210.0 2411.0L1232.0 2449.0L1188.0 2449.0Z" fill="#00f"/>
<path d="M1155.4 2458.0L1177.4 2496.0L1133.4 2496.0Z" fill="#00f"/>
<path d="M1233.4 2450.3L1255.4 2488.3L1211.4 2488.3Z" fill="#00f"/>
<path d="M1180.0 2430.0L1202.0 2468.0L1158.0 2468.0Z" fill="#00f"/>
<path d="M1205.0 2430.0L1227.0 2468.0L1183.0 2468.0Z" fill="#00f"/>
<path d="M1240.0 2376.0L1262.0 2414.0L1218.0 2414.0Z" fill="#00f"/>
<path d="M1250.0 2341.0L1272.0 2379.0L1228.0 2379.0Z" fill="#00f"/>
<path d="M1270.0 2291.0L1292.0 2329.0L1248.0 2329.0Z" fill="#00f"/>
<path d="M1284.7 2271.0L1306.7 2309.0L1262.7 2309.0Z" fill="#00f"/>
<path d="M1301.4 2265.5L1323.4 2303.5L1279.4 2303.5Z" fill="#00f"/>
<path d="M1165.0 2469.0L1187.0 2507.0L1143.0 2507.0Z" fill="#00f"/>
<path d="M1163.0 2490.0L1185.0 2528.0L1141.0 2528.0Z" fill="#00f"/>
<path d="M1120.0 2501.0L1142.0 2539.0L1098.0 2539.0Z" fill="#00f"/>
<path d="M1135.0 2536.0L1157.0 2574.0L1113.0 2574.0Z" fill="#00f"/>
<path d="M1136.0 2531.0L1158.0 2569.0L1114.0 2569.0Z" fill="#00f"/>
<path d="M1102.0 2491.0L1124.0 2529.0L1080.0 2529.0Z" fill="#00f"/>
<path d="M1100.0 2516.0L1122.0 2554.0L1078.0 2554.0Z" fill="#00f"/>
<path d="M1090.0 2541.0L1112.0 2579.0L1068.0 2579.0Z" fill="#00f"/>
<path d="M1110.0 2551.0L1132.0 2589.0L1088.0 2589.0Z" fill="#00f"/>
<path d="M1120.0 2571.0L1142.0 2609.0L1098.0 2609.0Z" fill="#00f"/>
<path d="M1150.0 2451.0L1172.0 2489.0L1128.0 2489.0Z" fill="#00f"/>
<path d="M1421.0 2250.5L1443.0 2288.5L1399.0 2288.5Z" fill="#00f"/>
<path d="M1450.0 2261.0L1472.0 2299.0L1428.0 2299.0Z" fill="#00f"/>
<path d="M1496.7 2264.8L1518.7 2302.8L1474.7 2302.8Z" fill="#00f"/>
<path d="M1480.5 2306.0L1502.5 2344.0L1458.5 2344.0Z" fill="#00f"/>
<path d="M1514.6 2336.7L1536.6 2374.7L1492.6 2374.7Z" fill="#00f"/>
<path d="M1532.6 2401.0L1554.6 2439.0L1510.6 2439.0Z" fill="#00f"/>
<path d="M1547.0 2372.6L1569.0 2410.6L1525.0 2410.6Z" fill="#00f"/>
<path d="M1583.0 2430.0L1605.0 2468.0L1561.0 2468.0Z" fill="#00f"/>
<path d="M1604.4 2451.6L1626.4 2489.6L1582.4 2489.6Z" fill="#00f"/>
<path d="M1418.0 2174.0L1440.0 2212.0L1396.0 2212.0Z" fill="#00f"/>
<path d="M1453.9 2207.4L1475.9 2245.4L1431.9 2245.4Z" fill="#00f"/>
<path d="M1405.0 2225.0L1427.0 2263.0L1383.0 2263.0Z" fill="#00f"/>
<path d="M1430.8 2246.0L1452.8 2284.0L1408.8 2284.0Z" fill="#00f"/>
<path d="M1470.0 2266.5L1492.0 2304.5L1448.0 2304.5Z" fill="#00f"/>
<path d="M1443.8 2265.5L1465.8 2303.5L1421.8 2303.5Z" fill="#00f"/>
<path d="M1479.7 2265.5L1501.7 2303.5L1457.7 2303.5Z" fill="#00f"/>
<path d="M1528.3 2361.0L1550.3 2399.0L1506.3 2399.0Z" fill="#00f"/>
<path d="M1559.0 2371.0L1581.0 2409.0L1537.0 2409.0Z" fill="#00f"/>
<path d="M1536.0 2411.0L1558.0 2449.0L1514.0 2449.0Z" fill="#00f"/>
<path d="M1579.6 2401.0L1601.6 2439.0L1557.6 2439.0Z" fill="#00f"/>
<path d="M1531.3 2402.5L1553.3 2440.5L1509.3 2440.5Z" fill="#00f"/>
<path d="M1560.0 2421.0L1582.0 2459.0L1538.0 2459.0Z" fill="#00f"/>
<path d="M1593.0 2450.0L1615.0 2488.0L1571.0 2488.0Z" fill="#00f"/>
<path d="M1582.6 2427.0L1604.6 2465.0L1560.6 2465.0Z" fill="#00f"/>
<path d="M1639.0 2490.0L1661.0 2528.0L1617.0 2528.0Z" fill="#00f"/>
<path d="M1685.0 2490.0L1707.0 2528.0L1663.0 2528.0Z" fill="#00f"/>
<path d="M1662.0 2490.0L1684.0 2528.0L1640.0 2528.0Z" fill="#00f"/>
<path d="M1619.8 2532.4L1641.8 2570.4L1597.8 2570.4Z" fill="#00f"/>
<path d="M1662.2 2532.4L1684.2 2570.4L1640.2 2570.4Z" fill="#00f"/>
<path d="M1610.0 2471.0L1632.0 2509.0L1588.0 2509.0Z" fill="#00f"/>
<path d="M1630.0 2511.0L1652.0 2549.0L1608.0 2549.0Z" fill="#00f"/>
<path d="M1705.8 2560.6L1727.8 2598.6L1683.8 2598.6Z" fill="#00f"/>
<path d="M1775.0 2515.5L1797.0 2553.5L1753.0 2553.5Z" fill="#00f"/>
<path d="M1740.0 2506.0L1762.0 2544.0L1718.0 2544.0Z" fill="#00f"/>
<path d="M1818.7 2559.0L1840.7 2597.0L1796.7 2597.0Z" fill="#00f"/>
<path d="M1865.0 2551.0L1887.0 2589.0L1843.0 2589.0Z" fill="#00f"/>
<path d="M1800.7 2621.0L1822.7 2659.0L1778.7 2659.0Z" fill="#00f"/>
<path d="M1875.0 2549.0L1897.0 2587.0L1853.0 2587.0Z" fill="#00f"/>
<path d="M1760.0 2541.0L1782.0 2579.0L1738.0 2579.0Z" fill="#00f"/>
<path d="M1780.0 2581.0L1802.0 2619.0L1758.0 2619.0Z" fill="#00f"/>
<path d="M1866.0 2621.0L1888.0 2659.0L1844.0 2659.0Z" fill="#00f"/>
<path d="M1715.0 2526.0L1737.0 2564.0L1693.0 2564.0Z" fill="#00f"/>
<path d="M1735.0 2536.0L1757.0 2574.0L1713.0 2574.0Z" fill="#00f"/>
<path d="M1712.0 2556.0L1734.0 2594.0L1690.0 2594.0Z" fill="#00f"/>
<path d="M1790.0 2556.0L1812.0 2594.0L1768.0 2594.0Z" fill="#00f"/>
<path d="M1840.0 2566.0L1862.0 2604.0L1818.0 2604.0Z" fill="#00f"/>
<path d="M1855.0 2591.0L1877.0 2629.0L1833.0 2629.0Z" fill="#00f"/>
<path d="M1795.0 2606.0L1817.0 2644.0L1773.0 2644.0Z" fill="#00f"/>
<path d="M1845.0 2621.0L1867.0 2659.0L1823.0 2659.0Z" fill="#00f"/>
<path d="M1700.0 2526.0L1722.0 2564.0L1678.0 2564.0Z" fill="#00f"/>
<path d="M1720.0 2541.0L1742.0 2579.0L1698.0 2579.0Z" fill="#00f"/>
<path d="M1745.0 2556.0L1767.0 2594.0L1723.0 2594.0Z" fill="#00f"/>
<path d="M1790.0 2541.0L1812.0 2579.0L1768.0 2579.0Z" fill="#00f"/>
<path d="M1874.0 2551.0L1896.0 2589.0L1852.0 2589.0Z" fill="#00f"/>
<path d="M1901.0 2551.0L1923.0 2589.0L1879.0 2589.0Z" fill="#00f"/>
<path d="M1970.0 2561.0L1992.0 2599.0L1948.0 2599.0Z" fill="#00f"/>
<path d="M2048.6 2563.5L2070.6 2601.5L2026.6 2601.5Z" fill="#00f"/>
<path d="M2085.8 2563.5L2107.8 2601.5L2063.8 2601.5Z" fill="#00f"/>
<path d="M2129.4 2563.5L2151.4 2601.5L2107.4 2601.5Z" fill="#00f"/>
<path d="M2168.0 2561.0L2190.0 2599.0L2146.0 2599.0Z" fill="#00f"/>
<path d="M2191.0 2563.5L2213.0 2601.5L2169.0 2601.5Z" fill="#00f"/>
<path d="M2101.0 2646.0L2123.0 2684.0L2079.0 2684.0Z" fill="#00f"/>
<path d="M2153.8 2646.0L2175.8 2684.0L2131.8 2684.0Z" fill="#00f"/>
<path d="M1930.0 2566.0L1952.0 2604.0L1908.0 2604.0Z" fill="#00f"/>
<path d="M2010.0 2566.0L2032.0 2604.0L1988.0 2604.0Z" fill="#00f"/>
<path d="M1950.0 2571.0L1972.0 2609.0L1928.0 2609.0Z" fill="#00f"/>
<path d="M2030.0 2571.0L2052.0 2609.0L2008.0 2609.0Z" fill="#00f"/>
<path d="M2110.0 2571.0L2132.0 2609.0L2088.0 2609.0Z" fill="#00f"/>
<path d="M2150.0 2571.0L2172.0 2609.0L2128.0 2609.0Z" fill="#00f"/>
<path d="M1870.0 2621.0L1892.0 2659.0L1848.0 2659.0Z" fill="#00f"/>
<path d="M1884.0 2621.0L1906.0 2659.0L1862.0 2659.0Z" fill="#00f"/>
<path d="M1898.0 2621.0L1920.0 2659.0L1876.0 2659.0Z" fill="#00f"/>
<path d="M1912.0 2621.0L1934.0 2659.0L1890.0 2659.0Z" fill="#00f"/>
<path d="M1926.0 2621.0L1948.0 2659.0L1904.0 2659.0Z" fill="#00f"/>
<path d="M1940.0 2621.0L1962.0 2659.0L1918.0 2659.0Z" fill="#00f"/>
<path d="M1954.0 2621.0L1976.0 2659.0L1932.0 2659.0Z" fill="#00f"/>
<path d="M1968.0 2621.0L1990.0 2659.0L1946.0 2659.0Z" fill="#00f"/>
<path d="M1982.0 2621.0L2004.0 2659.0L1960.0 2659.0Z" fill="#00f"/>
<path d="M1996.0 2621.0L2018.0 2659.0L1974.0 2659.0Z" fill="#00f"/>
<path d="M2010.0 2621.0L2032.0 2659.0L1988.0 2659.0Z" fill="#00f"/>
<path d="M2024.0 2621.0L2046.0 2659.0L2002.0 2659.0Z" fill="#00f"/>
<path d="M2038.0 2621.0L2060.0 2659.0L2016.0 2659.0Z" fill="#00f"/>
<path d="M2052.0 2621.0L2074.0 2659.0L2030.0 2659.0Z" fill="#00f"/>
<path d="M2066.0 2621.0L2088.0 2659.0L2044.0 2659.0Z" fill="#00f"/>
<path d="M2080.0 2621.0L2102.0 2659.0L2058.0 2659.0Z" fill="#00f"/>
<path d="M2206.0 2621.0L2228.0 2659.0L2184.0 2659.0Z" fill="#00f"/>
<path d="M1870.0 2593.0L1892.0 2631.0L1848.0 2631.0Z" fill="#00f"/>
<path d="M1884.0 2593.0L1906.0 2631.0L1862.0 2631.0Z" fill="#00f"/>
<path d="M1898.0 2593.0L1920.0 2631.0L1876.0 2631.0Z" fill="#00f"/>
<path d="M1912.0 2593.0L1934.0 2631.0L1890.0 2631.0Z" fill="#00f"/>
<path d="M1926.0 2593.0L1948.0 2631.0L1904.0 2631.0Z" fill="#00f"/>
<path d="M1940.0 2593.0L1962.0 2631.0L1918.0 2631.0Z" fill="#00f"/>
<path d="M1954.0 2593.0L1976.0 2631.0L1932.0 2631.0Z" fill="#00f"/>
<path d="M1968.0 2593.0L1990.0 2631.0L1946.0 2631.0Z" fill="#00f"/>
<path d="M1982.0 2593.0L2004.0 2631.0L1960.0 2631.0Z" fill="#00f"/>
<path d="M1996.0 2593.0L2018.0 2631.0L1974.0 2631.0Z" fill="#00f"/>
<path d="M2010.0 2593.0L2032.0 2631.0L1988.0 2631.0Z" fill="#00f"/>
<path d="M2024.0 2593.0L2046.0 2631.0L2002.0 2631.0Z" fill="#00f"/>
<path d="M2038.0 2593.0L2060.0 2631.0L2016.0 2631.0Z" fill="#00f"/>
<path d="M2052.0 2593.0L2074.0 2631.0L2030.0 2631.0Z" fill="#00f"/>
<path d="M2066.0 2593.0L2088.0 2631.0L2044.0 2631.0Z" fill="#00f"/>
<path d="M2080.0 2593.0L2102.0 2631.0L2058.0 2631.0Z" fill="#00f"/>
<path d="M2094.0 2581.0L2116.0 2619.0L2072.0 2619.0Z" fill="#00f"/>
<path d="M2108.0 2581.0L2130.0 2619.0L2086.0 2619.0Z" fill="#00f"/>
<path d="M2122.0 2581.0L2144.0 2619.0L2100.0 2619.0Z" fill="#00f"/>
<path d="M2136.0 2581.0L2158.0 2619.0L2114.0 2619.0Z" fill="#00f"/>
<path d="M2150.0 2581.0L2172.0 2619.0L2128.0 2619.0Z" fill="#00f"/>
<path d="M2164.0 2581.0L2186.0 2619.0L2142.0 2619.0Z" fill="#00f"/>
<path d="M2178.0 2593.0L2200.0 2631.0L2156.0 2631.0Z" fill="#00f"/>
<path d="M2192.0 2593.0L2214.0 2631.0L2170.0 2631.0Z" fill="#00f"/>
<path d="M2206.0 2593.0L2228.0 2631.0L2184.0 2631.0Z" fill="#00f"/>
</g>
<rect x="1808.7" y="1189.5" width="340" height="174.5" fill="#fff" stroke="#666" stroke-width="3"/>
<rect x="1897.0" y="1225.5" width="31" height="31" fill="#000"/>
<circle cx="1913.3" cy="1318.5" r="16.5" fill="#f00"/>
<text x="1985.3" y="1262.6" font-size="63.2" text-anchor="start" fill="#000">B</text>
<text x="1985.2" y="1339.6" font-size="63.2" text-anchor="start" fill="#000" textLength="132.7" lengthAdjust="spacingAndGlyphs">B-11</text>
<rect x="1945.8" y="3029.3" width="388" height="288" fill="#fff" stroke="#555" stroke-width="3"/>
<rect x="2040.2" y="3074.8" width="34.5" height="34.5" fill="#000"/>
<circle cx="2058.3" cy="3177.7" r="18.0" fill="#f00"/>
<path d="M2059.3 3236.8L2081.3 3278.1L2037.3 3278.1Z" fill="#00f"/>
<text x="2155.4" y="3115.7" font-size="70.6" text-anchor="start" fill="#000">B</text>
<text x="2155.4" y="3201.3" font-size="70.6" text-anchor="start" fill="#000" textLength="151.7" lengthAdjust="spacingAndGlyphs">B-33</text>
<text x="2155.4" y="3285.4" font-size="70.6" text-anchor="start" fill="#000" textLength="151.7" lengthAdjust="spacingAndGlyphs">B-13</text>
</svg>
</body></html>
